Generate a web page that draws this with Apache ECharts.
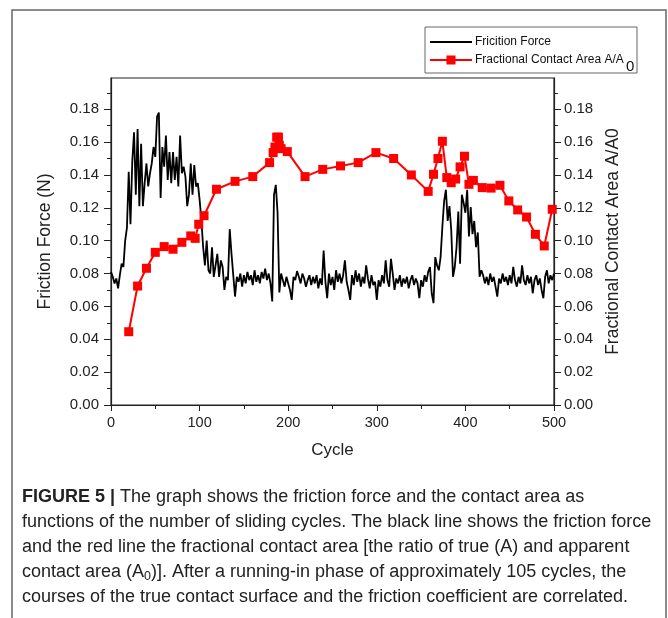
<!DOCTYPE html>
<html>
<head>
<meta charset="utf-8">
<script src="https://cdn.jsdelivr.net/npm/echarts@6/dist/echarts.min.js"></script>
<style>html,body{margin:0;padding:0;background:#fff}#c{width:668px;height:618px}</style>
</head>
<body>
<div id="c"></div>
<script>
// Friction force (N), every 2 cycles from 0 to 500
const forceCycles = [];
for (let c = 0; c <= 500; c += 2) forceCycles.push(c);
const forceValues = [
0.081,0.078,0.074,0.077,0.071,0.079,0.086,0.084,0.100,0.108,
0.142,0.110,0.148,0.166,0.128,0.168,0.121,0.159,0.121,0.135,
0.147,0.133,0.141,0.147,0.157,0.151,0.1755,0.178,0.126,0.157,
0.145,0.164,0.137,0.154,0.135,0.154,0.137,0.151,0.133,0.164,
0.141,0.145,0.139,0.121,0.128,0.147,0.128,0.146,0.133,0.135,
0.125,0.1126,0.096,0.085,0.100,0.082,0.080,0.096,0.078,0.085,
0.092,0.078,0.088,0.084,0.070,0.078,0.076,0.107,0.092,0.093,
0.066,0.078,0.075,0.080,0.072,0.079,0.074,0.081,0.076,0.079,
0.073,0.082,0.075,0.079,0.074,0.081,0.077,0.083,0.076,0.080,
0.074,0.063,0.128,0.134,0.117,0.0685,0.080,0.076,0.072,0.078,
0.074,0.070,0.064,0.078,0.076,0.0815,0.078,0.074,0.080,0.077,
0.072,0.076,0.079,0.073,0.078,0.074,0.079,0.071,0.077,0.073,
0.094,0.075,0.065,0.080,0.073,0.078,0.070,0.082,0.075,0.080,
0.074,0.079,0.088,0.075,0.070,0.064,0.079,0.073,0.082,0.075,
0.080,0.072,0.078,0.074,0.085,0.077,0.071,0.079,0.073,0.075,
0.064,0.076,0.072,0.079,0.074,0.088,0.076,0.072,0.089,0.080,
0.070,0.077,0.074,0.079,0.072,0.077,0.074,0.078,0.071,0.076,
0.079,0.073,0.077,0.074,0.065,0.076,0.072,0.079,0.075,0.081,
0.084,0.068,0.062,0.090,0.085,0.082,0.090,0.1085,0.124,0.131,
0.112,0.121,0.1065,0.078,0.084,0.096,0.1177,0.086,0.128,0.123,
0.117,0.131,0.1025,0.1205,0.104,0.112,0.096,0.105,0.078,0.082,
0.079,0.074,0.078,0.073,0.080,0.075,0.078,0.072,0.066,0.077,
0.074,0.080,0.075,0.078,0.073,0.079,0.074,0.084,0.076,0.072,
0.078,0.074,0.085,0.076,0.073,0.079,0.074,0.078,0.068,0.076,
0.079,0.073,0.077,0.070,0.065,0.078,0.082,0.074,0.079,0.076,
0.080
];
// Fractional contact area A/A0
const areaCycles = [20,30,40,50,60,70,80,90,95,99,105,119,140,160,179,183,185,187,189,190,192,199,219,239,259,279,299,319,339,358,364,369,374,379,384,389,394,399,404,409,419,429,439,449,459,469,479,489,498];
const areaValues = [0.0446,0.0724,0.0832,0.0929,0.0964,0.0948,0.099,0.1029,0.1014,0.110,0.1152,0.1313,0.1361,0.139,0.1475,0.1536,0.157,0.163,0.163,0.158,0.156,0.1542,0.139,0.1434,0.1455,0.1475,0.1536,0.150,0.140,0.130,0.1404,0.150,0.1605,0.1384,0.1353,0.1375,0.1449,0.1514,0.1343,0.1367,0.1323,0.132,0.1337,0.1242,0.1187,0.1144,0.1039,0.0968,0.1191];

// tick values for the two y axes
const yTicks = [0, 0.02, 0.04, 0.06, 0.08, 0.10, 0.12, 0.14, 0.16, 0.18];

const legendNames = ['Fricition Force', 'Fractional Contact Area A/A'];
const captionLines = [
  ['FIGURE 5 | ', 'The graph shows the friction force and the contact area as'],
  ['', 'functions of the number of sliding cycles. The black line shows the friction force'],
  ['', 'and the red line the fractional contact area [the ratio of true (A) and apparent'],
  ['', 'contact area (A{s|0})]. After a running-in phase of approximately 105 cycles, the'],
  ['', 'courses of the true contact surface and the friction coefficient are correlated.']
];

const font = 'Arial, "Liberation Sans", Helvetica, sans-serif';
const chart = echarts.init(document.getElementById('c'), null, {renderer: 'canvas'});

const forceData = forceCycles.map((c, i) => [c, forceValues[i]]);
const areaData = areaCycles.map((c, i) => [c, areaValues[i]]);

function yAxis(pos, name) {
  return {
    type: 'value', position: pos, min: 0, max: 0.199, interval: 0.02,
    name: name, nameLocation: 'middle', nameRotate: 90,
    nameGap: pos === 'left' ? 57 : 33,
    nameTextStyle: {fontFamily: font, fontSize: 17.5, color: '#222'},
    axisLine: {show: true, lineStyle: {color: '#222', width: 1.2}},
    axisTick: {show: true, length: 7, inside: false, customValues: yTicks, lineStyle: {color: '#222'}},
    minorTick: {show: true, splitNumber: 2, length: 4, lineStyle: {color: '#222'}},
    splitLine: {show: false},
    axisLabel: {fontFamily: font, fontSize: 15, color: '#222', margin: pos === 'left' ? 12 : 10,
      customValues: yTicks, formatter: v => v.toFixed(2)}
  };
}

const legendGraphics = [
  {type: 'rect', shape: {x: 425, y: 27, width: 212, height: 46}, style: {fill: '#fff', stroke: '#666', lineWidth: 1}, z: 10},
  {type: 'line', shape: {x1: 430, y1: 42, x2: 472, y2: 42}, style: {stroke: '#000', lineWidth: 2}, z: 11},
  {type: 'text', x: 475, y: 42, style: {text: legendNames[0], fontFamily: font, fontSize: 12, fill: '#111', textVerticalAlign: 'middle'}, z: 11},
  {type: 'line', shape: {x1: 430, y1: 60, x2: 472, y2: 60}, style: {stroke: '#ff0000', lineWidth: 2}, z: 11},
  {type: 'rect', shape: {x: 446.5, y: 55.5, width: 9, height: 9}, style: {fill: '#ff0000'}, z: 12},
  {type: 'text', x: 475, y: 60, style: {text: legendNames[1], fontFamily: font, fontSize: 12, fill: '#111', textVerticalAlign: 'middle'}, z: 11},
  {type: 'text', x: 626, y: 67, style: {text: '0', fontFamily: font, fontSize: 15, fill: '#111', textVerticalAlign: 'middle'}, z: 11}
];

chart.setOption({
  animation: false,
  backgroundColor: '#fff',
  grid: {left: 111, right: 114, top: 78, bottom: 213, show: true, borderColor: '#222', borderWidth: 1.2, outerBoundsMode: 'none', containLabel: false},
  xAxis: {
    type: 'value', min: 0, max: 500, interval: 100,
    name: 'Cycle', nameLocation: 'middle', nameGap: 37,
    nameTextStyle: {fontFamily: font, fontSize: 17, color: '#222'},
    axisLine: {show: true, onZero: false, lineStyle: {color: '#222', width: 1.2}},
    axisTick: {show: true, length: 6, lineStyle: {color: '#222'}},
    minorTick: {show: true, splitNumber: 2, length: 4, lineStyle: {color: '#222'}},
    splitLine: {show: false},
    axisLabel: {fontFamily: font, fontSize: 14.5, color: '#222', margin: 10}
  },
  yAxis: [yAxis('left', 'Friction Force (N)'), yAxis('right', 'Fractional Contact Area A/A0')],
  series: [
    {name: legendNames[0], type: 'line', data: forceData, yAxisIndex: 0, showSymbol: false, symbol: 'none',
      lineStyle: {color: '#000', width: 1.8}, itemStyle: {color: '#000'}, z: 2},
    {name: legendNames[1], type: 'line', data: areaData, yAxisIndex: 1,
      symbol: 'rect', symbolSize: 9, showSymbol: true,
      lineStyle: {color: '#ff0000', width: 2}, itemStyle: {color: '#ff0000'}, z: 3}
  ],
  graphic: [
    {type: 'rect', shape: {x: 12, y: 10, width: 654, height: 640}, style: {fill: null, stroke: '#666', lineWidth: 1.5}, silent: true, z: -1}
  ].concat(legendGraphics).concat(captionLines.map((ln, i) => ({
    type: 'text', left: 22, top: 488 + i * 25,
    style: {
      text: (ln[0] ? '{b|' + ln[0] + '}' : '') + ln[1],
      fontFamily: font, fontSize: 18, fill: '#222',
      rich: {
        b: {fontFamily: font, fontSize: 18, fontWeight: 'bold', fill: '#222'},
        s: {fontFamily: font, fontSize: 12.5, fill: '#222', padding: [9, 0, 0, 0]}
      }
    }
  })))
});
</script>
</body>
</html>
